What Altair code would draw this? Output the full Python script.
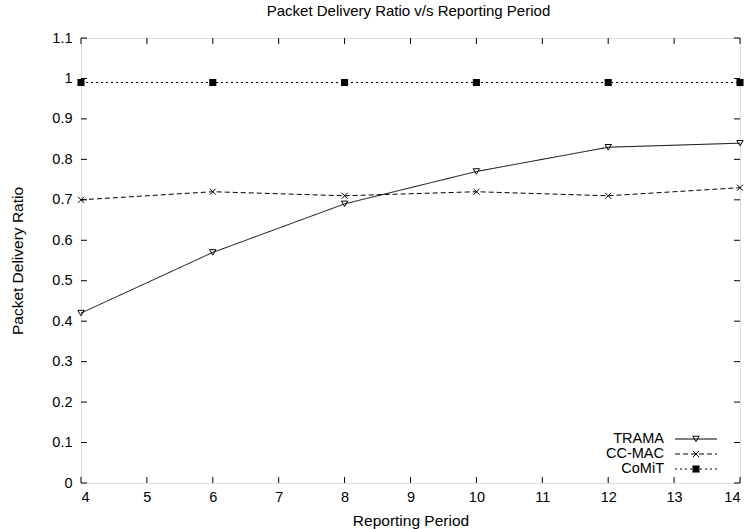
import altair as alt
import pandas as pd

periods = [4, 6, 8, 10, 12, 14]
trama = [0.42, 0.57, 0.69, 0.77, 0.83, 0.84]
ccmac = [0.70, 0.72, 0.71, 0.72, 0.71, 0.73]
comit = [0.99, 0.99, 0.99, 0.99, 0.99, 0.99]
series_names = ["TRAMA", "CC-MAC", "CoMiT"]
x_ticks = [4, 5, 6, 7, 8, 9, 10, 11, 12, 13, 14]
y_ticks = [0, 0.1, 0.2, 0.3, 0.4, 0.5, 0.6, 0.7, 0.8, 0.9, 1.0, 1.1]

W, H = 659, 445
FONT = "Liberation Sans"
FS = 14.5
TFS = 15.5

xs = alt.Scale(domain=[4, 14], nice=False, zero=False)
ys = alt.Scale(domain=[0, 1.1], nice=False)

styles = {
    "TRAMA": dict(dash=[1, 0], shape="triangle-down", filled=False, size=40),
    "CC-MAC": dict(dash=[5, 3], shape="M-1,-1L1,1M-1,1L1,-1", filled=False, size=36),
    "CoMiT": dict(dash=[2, 3], shape="square", filled=True, size=50),
}
values = {"TRAMA": trama, "CC-MAC": ccmac, "CoMiT": comit}
legend_y = {"TRAMA": 401, "CC-MAC": 416, "CoMiT": 431}

layers = []

xt = pd.DataFrame({"x": x_ticks})
yt = pd.DataFrame({"y": y_ticks})
base_x = alt.X("x:Q", scale=xs, axis=alt.Axis(values=x_ticks, ticks=False, domain=False, grid=False,
                                               format="d",
                                               labelFont=FONT, labelFontSize=FS, labelColor="#000",
                                               labelPadding=7, title="Reporting Period",
                                               titleFont=FONT, titleFontSize=TFS, titleFontWeight="normal",
                                               titleColor="#000", titlePadding=10))
base_y = alt.Y("y:Q", scale=ys, axis=alt.Axis(values=y_ticks, ticks=False, domain=False, grid=False,
                                               labelFont=FONT, labelFontSize=FS, labelColor="#000",
                                               labelPadding=9, title="Packet Delivery Ratio",
                                               titleFont=FONT, titleFontSize=TFS, titleFontWeight="normal",
                                               titleColor="#000", titlePadding=26,
                                               labelExpr="format(datum.value, '~g')"))

layers.append(alt.Chart(xt).mark_rule(color="#000", strokeWidth=1).encode(
    x=base_x, y=alt.value(H), y2=alt.value(H - 6)))
layers.append(alt.Chart(xt).mark_rule(color="#000", strokeWidth=1).encode(
    x=alt.X("x:Q", scale=xs), y=alt.value(0), y2=alt.value(6)))
layers.append(alt.Chart(yt).mark_rule(color="#000", strokeWidth=1).encode(
    y=base_y, x=alt.value(0), x2=alt.value(6)))
layers.append(alt.Chart(yt).mark_rule(color="#000", strokeWidth=1).encode(
    y=alt.Y("y:Q", scale=ys), x=alt.value(W), x2=alt.value(W - 6)))

for name in series_names:
    st = styles[name]
    df = pd.DataFrame({"x": periods, "y": values[name]})
    layers.append(alt.Chart(df).mark_line(color="#000", strokeWidth=1, strokeDash=st["dash"]).encode(
        x=alt.X("x:Q", scale=xs), y=alt.Y("y:Q", scale=ys)))
    layers.append(alt.Chart(df).mark_point(color="#000", shape=st["shape"], filled=st["filled"],
                                           size=st["size"], strokeWidth=1, opacity=1).encode(
        x=alt.X("x:Q", scale=xs), y=alt.Y("y:Q", scale=ys)))
    ld = pd.DataFrame({"s": [name]})
    ly = legend_y[name]
    layers.append(alt.Chart(ld).mark_text(align="right", baseline="middle", font=FONT, fontSize=FS,
                                          color="#000").encode(
        x=alt.value(583), y=alt.value(ly), text="s:N"))
    layers.append(alt.Chart(ld).mark_rule(color="#000", strokeWidth=1, strokeDash=st["dash"]).encode(
        x=alt.value(594), x2=alt.value(636), y=alt.value(ly)))
    layers.append(alt.Chart(ld).mark_point(color="#000", shape=st["shape"], filled=st["filled"],
                                           size=st["size"], strokeWidth=1, opacity=1).encode(
        x=alt.value(615), y=alt.value(ly)))

chart = alt.layer(*layers).properties(
    width=W, height=H,
    title=alt.TitleParams("Packet Delivery Ratio v/s Reporting Period", font=FONT, fontSize=15,
                          fontWeight="normal", color="#000", anchor="middle", offset=11, dx=-2),
    autosize=alt.AutoSizeParams(type="none"),
    padding={"left": 81, "top": 38, "right": 6, "bottom": 46},
).configure_view(stroke="#000", strokeWidth=1.2).configure(background="white")

chart.save("out.html", embed_options={"renderer": "svg", "actions": False})
